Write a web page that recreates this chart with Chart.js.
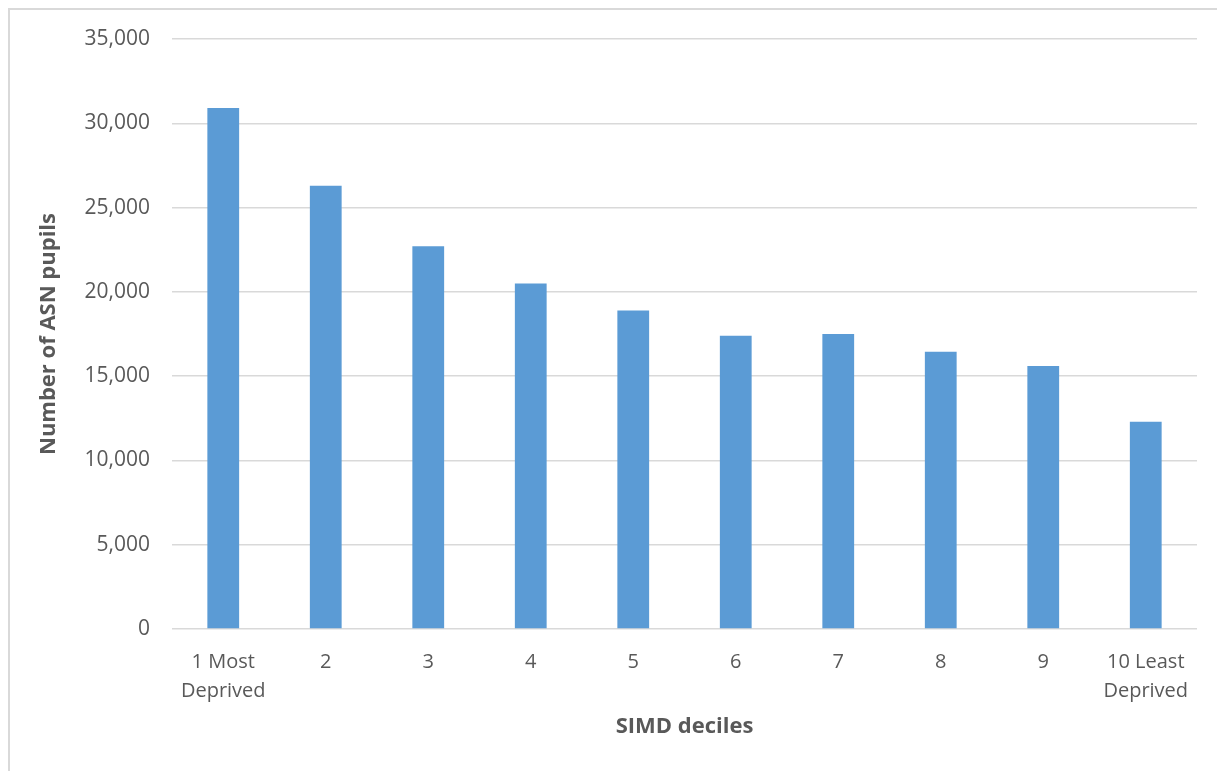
<!DOCTYPE html>
<html>
<head>
<meta charset="utf-8">
<script src="https://cdn.jsdelivr.net/npm/chart.js@4/dist/chart.umd.min.js"></script>
<style>
  html, body { margin: 0; padding: 0; background: #ffffff; }
  #wrap { position: relative; width: 1217px; height: 771px; overflow: hidden; }
  #frame { position: absolute; left: 8px; top: 8px; width: 1300px; height: 900px;
           border: 2px solid #d9d9d9; box-sizing: border-box; }
  canvas { position: absolute; left: 0; top: 0; }
</style>
</head>
<body>
<div id="wrap">
  <div id="frame"></div>
  <canvas id="chart" width="1217" height="771"></canvas>
</div>
<script>
// SIMD deciles (x categories; multi-line labels as arrays)
const deciles = [
  ['1 Most', 'Deprived'], '2', '3', '4', '5', '6', '7', '8', '9', ['10 Least', 'Deprived']
];
// Number of ASN pupils in each decile
const asnPupils = [30900, 26300, 22700, 20500, 18900, 17400, 17500, 16450, 15600, 12300];
// Value axis range and step
const yMax = 35000;
const yStep = 5000;

const textColor = '#595959';
const fontFamily = "'Open Sans', 'Noto Sans', sans-serif";

new Chart(document.getElementById('chart'), {
  type: 'bar',
  data: {
    labels: deciles,
    datasets: [{
      label: 'Number of ASN pupils',
      data: asnPupils,
      backgroundColor: '#5b9bd5',
      borderWidth: 0,
      barPercentage: 0.31,
      categoryPercentage: 1.0
    }]
  },
  options: {
    responsive: false,
    animation: false,
    devicePixelRatio: 1,
    layout: { padding: { left: 0, right: 20, top: 39, bottom: 0 } },
    plugins: {
      legend: { display: false },
      tooltip: { enabled: false }
    },
    scales: {
      x: {
        offset: true,
        grid: { display: false },
        border: { display: false },
        ticks: {
          color: textColor,
          font: { family: fontFamily, size: 20, lineHeight: 1.45 },
          padding: 11,
          maxRotation: 0,
          autoSkip: false
        },
        title: {
          display: true,
          text: 'SIMD deciles',
          color: textColor,
          font: { family: fontFamily, size: 22, weight: 'bold' },
          padding: { top: 0, bottom: 31 }
        },
        afterFit: (scale) => { scale.height = 142; }
      },
      y: {
        min: 0,
        max: yMax,
        grid: { color: '#d9d9d9', lineWidth: 1.5, drawTicks: false },
        border: { display: false },
        ticks: {
          stepSize: yStep,
          color: textColor,
          font: { family: fontFamily, size: 21 },
          padding: 22,
          callback: (v) => v.toLocaleString('en-US')
        },
        title: {
          display: true,
          text: 'Number of ASN pupils',
          color: textColor,
          font: { family: fontFamily, size: 22, weight: 'bold' },
          padding: { top: 36, bottom: 0 }
        },
        afterFit: (scale) => { scale.width = 172; }
      }
    }
  }
});
</script>
</body>
</html>
